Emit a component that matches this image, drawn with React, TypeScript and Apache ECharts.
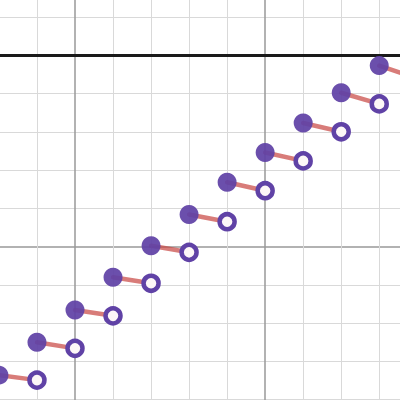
import React, { useEffect, useRef } from "react";
import * as echarts from "echarts";

// Data
const FILLED_X = [3, 4, 5, 6, 7, 8, 9, 10, 11, 12, 13];
const FILLED_Y = [-8.36, -7.5, -6.66, -5.8, -4.98, -4.16, -3.32, -2.54, -1.77, -0.98, -0.27];
const OPEN_X = [4, 5, 6, 7, 8, 9, 10, 11, 12, 13, 14];
const OPEN_Y = [-8.49, -7.66, -6.81, -5.96, -5.15, -4.35, -3.54, -2.76, -2.0, -1.27, -0.6];

// Viewport
const VIEW_X0 = 3.028; // x value at left edge
const VIEW_Y1 = 1.445; // y value at top edge
const PX_X = 38.03;
const PX_Y = 38.26;
const AX_X_MIN = 0;
const AX_X_MAX = 15;
const AX_Y_MIN = -10;
const AX_Y_MAX = 5;

const PURPLE = "#6042a6";
const RED = "#c74440";

export default function App() {
  const ref = useRef<HTMLDivElement>(null);
  useEffect(() => {
    if (!ref.current) return;
    const chart = echarts.init(ref.current, null, { renderer: "svg" });

    const segments = FILLED_X.map((x, i) => ({
      type: "line",
      data: [
        [x, FILLED_Y[i]],
        [OPEN_X[i], OPEN_Y[i]],
      ],
      symbol: "none",
      silent: true,
      z: 2,
      lineStyle: { color: RED, width: 4.5, opacity: 0.7, cap: "round" },
    }));

    const majorLine = { show: true, lineStyle: { color: "#999999", width: 1.5 } };
    const minorLine = { show: true, lineStyle: { color: "#d9d9d9", width: 1 } };

    chart.setOption({
      animation: false,
      backgroundColor: "#ffffff",
      grid: {
        left: (AX_X_MIN - VIEW_X0) * PX_X,
        top: (VIEW_Y1 - AX_Y_MAX) * PX_Y,
        width: (AX_X_MAX - AX_X_MIN) * PX_X,
        height: (AX_Y_MAX - AX_Y_MIN) * PX_Y,
        containLabel: false,
        outerBoundsMode: "none",
      },
      xAxis: {
        type: "value",
        min: AX_X_MIN,
        max: AX_X_MAX,
        interval: 5,
        axisLabel: { show: false },
        axisTick: { show: false },
        axisLine: { show: true, onZero: true, lineStyle: { color: "#1a1a1a", width: 3 } },
        splitLine: majorLine,
        minorTick: { show: false, splitNumber: 5 },
        minorSplitLine: minorLine,
      },
      yAxis: {
        type: "value",
        min: AX_Y_MIN,
        max: AX_Y_MAX,
        interval: 5,
        axisLabel: { show: false },
        axisTick: { show: false },
        axisLine: { show: false },
        splitLine: majorLine,
        minorTick: { show: false, splitNumber: 5 },
        minorSplitLine: minorLine,
      },
      series: [
        ...segments,
        {
          type: "scatter",
          data: FILLED_X.map((x, i) => [x, FILLED_Y[i]]),
          symbol: "circle",
          symbolSize: 19,
          z: 3,
          itemStyle: { color: PURPLE, opacity: 0.93 },
        },
        {
          type: "scatter",
          data: OPEN_X.map((x, i) => [x, OPEN_Y[i]]),
          symbol: "circle",
          symbolSize: 15,
          z: 4,
          itemStyle: {
            color: "#fdf7f7",
            borderColor: PURPLE,
            borderWidth: 4.5,
            opacity: 1,
          },
        },
      ],
    });
    return () => chart.dispose();
  }, []);
  return (
    <div
      ref={ref}
      style={{ position: "fixed", left: 0, top: 0, width: 400, height: 400, background: "#fff" }}
    />
  );
}
